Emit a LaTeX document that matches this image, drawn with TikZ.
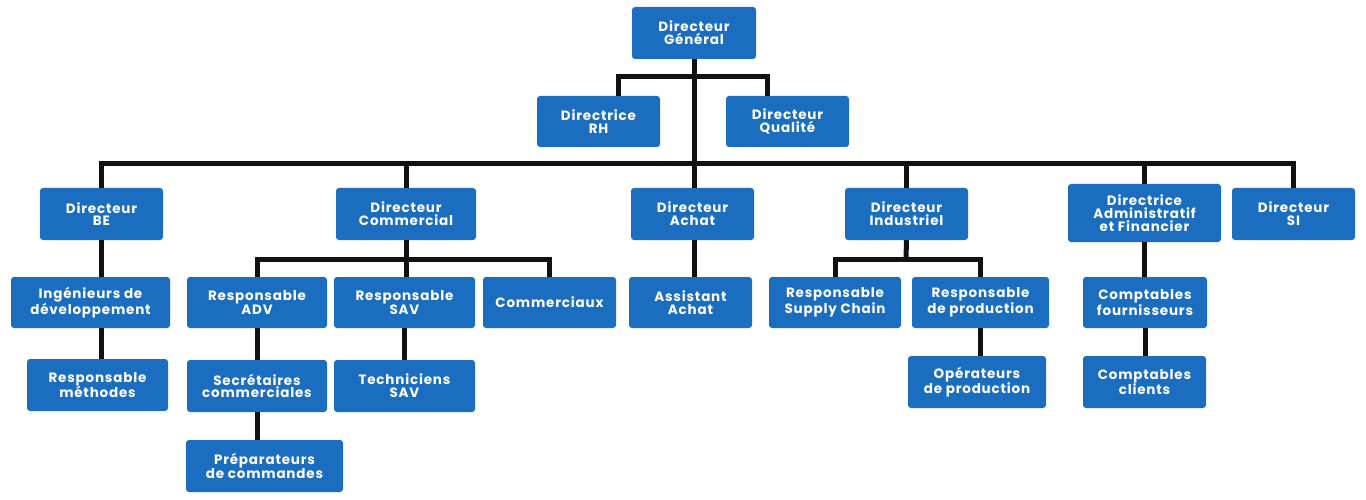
\documentclass[tikz,border=0pt]{standalone}
\usepackage{fontspec}
\setmainfont{Poppins}[LetterSpace=6]
\usetikzlibrary{calc}
\definecolor{boxblue}{RGB}{27,110,191}
\definecolor{linedark}{RGB}{17,17,17}
\tikzset{
  orgbox/.style={fill=boxblue, rounded corners=3pt, text=white, align=center,
    inner sep=0pt, font=\fontsize{13.5}{12.8}\selectfont\bfseries},
  link/.style={draw=linedark, line width=5pt}
}
\begin{document}
\begin{tikzpicture}[x=1pt,y=-1pt]
\useasboundingbox (0,0) rectangle (1366,500);
\newcommand\obox[6]{\node[orgbox, minimum width=#4pt, minimum height=#5pt] (#1) at (#2,#3) {#6};}
\obox{dg}{694}{33}{124}{52}{Directeur\\Général}
\obox{rh}{598.5}{121.5}{123}{51}{Directrice\\RH}
\obox{qual}{787.5}{121.5}{123}{51}{Directeur\\Qualité}
\obox{be}{101.5}{214}{123}{52}{Directeur\\BE}
\obox{com}{406}{214}{140}{52}{Directeur\\Commercial}
\obox{ach}{692.5}{214}{123}{52}{Directeur\\Achat}
\obox{ind}{906.5}{214}{123}{52}{Directeur\\Industriel}
\obox{daf}{1144.5}{213}{153}{58}{Directrice\\Administratif\\et Financier}
\obox{si}{1293.5}{214}{123}{52}{Directeur\\SI}
\obox{ing}{90.5}{302.5}{159}{51}{Ingénieurs de\\développement}
\obox{adv}{257}{302.5}{140}{51}{Responsable\\ADV}
\obox{sav}{404.5}{302.5}{141}{51}{Responsable\\SAV}
\obox{cx}{549.5}{302.5}{133}{51}{Commerciaux}
\obox{asa}{690.5}{302.5}{123}{51}{Assistant\\Achat}
\obox{sc}{835}{302.5}{132}{51}{Responsable\\Supply Chain}
\obox{rp}{980.5}{302.5}{137}{51}{Responsable\\de production}
\obox{cf}{1145}{302.5}{124}{51}{Comptables\\fournisseurs}
\obox{rm}{97.5}{385}{141}{52}{Responsable\\méthodes}
\obox{sec}{257}{386}{140}{52}{Secrétaires\\commerciales}
\obox{tech}{404.5}{386}{141}{52}{Techniciens\\SAV}
\obox{op}{977}{382}{138}{52}{Opérateurs\\de production}
\obox{cc}{1144.5}{382}{123}{52}{Comptables\\clients}
\obox{prep}{264.5}{466}{157}{52}{Préparateurs\\de commandes}
\coordinate (j1) at (694,77);
\coordinate (j2) at (694,164);
\coordinate (j3) at (406,259);
\coordinate (j4) at (906,259);
% top level
\draw[link] (dg.south) -- (dg.south |- ach.north);
\draw[link] ([xshift=19.5pt]rh.north) |- (j1) -| ([xshift=-20.5pt]qual.north);
\draw[link] (be.north) |- (j2) -| (si.north);
\draw[link] (com.north) -- (com.north |- j2);
\draw[link] (ind.north) -- (ind.north |- j2);
\draw[link] (daf.north) -- (daf.north |- j2);
% BE
\draw[link] (be.south) -- (be.south |- ing.north);
\draw[link] (ing.south -| be.south) -- (rm.north -| be.south);
% Commercial
\draw[link] (com.south) -- (com.south |- sav.north);
\draw[link] (adv.north) |- (j3) -| ([xshift=-0.5pt]cx.north);
\draw[link] (adv.south) -- (sec.north);
\draw[link] (sec.south) -- (sec.south |- prep.north);
\draw[link] (sav.south) -- (tech.north);
% Achat
\draw[link] (ach.south -| dg.south) -- (asa.north -| dg.south);
% Industriel
\draw[link] (ind.south) -- (j4);
\draw[link] (sc.north) |- (j4) -| (rp.north);
\draw[link] (rp.south) -- (rp.south |- op.north);
% DAF
\draw[link] (daf.south) -- (daf.south |- cf.north);
\draw[link] (cf.south) -- (cf.south |- cc.north);
\end{tikzpicture}
\end{document}
